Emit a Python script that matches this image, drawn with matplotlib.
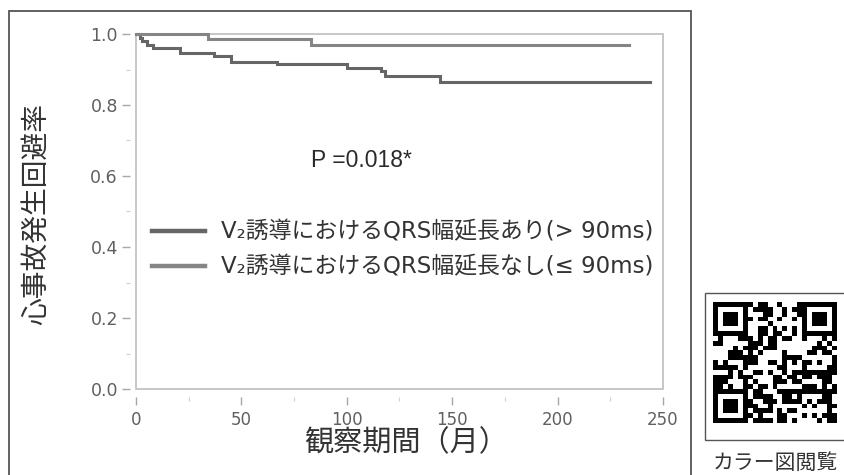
import hashlib
import numpy as np
import matplotlib
matplotlib.use("Agg")
import matplotlib.pyplot as plt
from matplotlib.patches import Rectangle
from matplotlib.ticker import MultipleLocator

JP = ["Noto Sans CJK JP", "DejaVu Sans"]
LAT_JP = ["DejaVu Sans", "Noto Sans CJK JP"]

# ── data ──────────────────────────────────────────────────────────────────────
# QRS prolongation present (> 90 ms): lower curve
t_yes = [0, 2, 3, 5, 8, 21, 37, 45, 67, 100, 116, 118, 144, 244]
s_yes = [1.0, 0.99, 0.98, 0.970, 0.961, 0.946, 0.938, 0.922, 0.915, 0.903,
         0.895, 0.883, 0.864, 0.864]
# QRS prolongation absent (<= 90 ms): upper curve
t_no = [0, 34, 83, 234]
s_no = [1.0, 0.985, 0.969, 0.969]

labels = ["V\u2082誘導におけるQRS幅延長あり(> 90ms)",
          "V\u2082誘導におけるQRS幅延長なし(\u2264 90ms)"]
colors = ["#666666", "#858585"]
p_text = "P =0.018*"
x_ticks = [0, 50, 100, 150, 200, 250]
y_ticks = [0.0, 0.2, 0.4, 0.6, 0.8, 1.0]

# ── figure ───────────────────────────────────────────────────────────────────
W, H = 845, 475
fig = plt.figure(figsize=(W / 100, H / 100), dpi=100)
ax = fig.add_axes([136 / W, 1 - 389 / H, (663 - 136) / W, (389 - 34) / H])

ax.step(t_yes, s_yes, where="post", color=colors[0], lw=2.2, label=labels[0],
        solid_joinstyle="miter", clip_on=False, zorder=3)
ax.step(t_no, s_no, where="post", color=colors[1], lw=2.2, label=labels[1],
        solid_joinstyle="miter", clip_on=False, zorder=3)

ax.set_xlim(0, 250)
ax.set_ylim(0, 1.0)
ax.set_xticks(x_ticks)
ax.set_yticks(y_ticks)
ax.set_yticklabels([f"{v:.1f}" for v in y_ticks])
ax.xaxis.set_minor_locator(MultipleLocator(25))
ax.yaxis.set_minor_locator(MultipleLocator(0.1))

# ticks float a little away from the plot frame
for s in ax.spines.values():
    s.set_visible(False)
ax.spines["left"].set_position(("outward", 4))
ax.spines["bottom"].set_position(("outward", 6))
ax.add_patch(Rectangle((0, 0), 1, 1, transform=ax.transAxes, fill=False,
                       ec="#bdbdbd", lw=1.2, clip_on=False, zorder=2))

ax.tick_params(axis="both", which="major", length=6, width=1, color="#a8a8a8",
               labelcolor="#606060")
ax.tick_params(axis="both", which="minor", length=3, width=0.8, color="#cfcfcf")
ax.tick_params(axis="y", labelsize=12.5, pad=3)
ax.tick_params(axis="x", labelsize=12, pad=4)

ax.text(107, 0.645, p_text, ha="center", va="center", fontsize=16.5,
        family=["Liberation Sans", "DejaVu Sans"], color="#2a2a2a")

leg = ax.legend(loc="upper left", bbox_to_anchor=(0.030, 0.474), frameon=False,
                prop=dict(family=LAT_JP, size=16.5), handlelength=2.3,
                handletextpad=0.72, labelspacing=0.52, borderpad=0,
                borderaxespad=0)
for h in leg.get_lines():
    h.set_linewidth(3.2)
for t in leg.get_texts():
    t.set_color("#333333")

fig.text(37 / W, 1 - 214 / H, "心事故発生回避率", rotation=90, ha="center",
         va="center", fontsize=20, family=JP, color="#333333")
fig.text(406 / W, 1 - 443 / H, "観察期間（月）", ha="center", va="center",
         fontsize=21, family=JP, color="#333333")

# outer frame of the figure panel
fig.add_artist(Rectangle((9 / W, -0.05), (691 - 9) / W, 1 - 11 / H + 0.05,
                         transform=fig.transFigure, fill=False, ec="#555555",
                         lw=1.3))

# QR box at the right (decoration)
fig.add_artist(Rectangle((705 / W, 1 - 440 / H), 0.3, (440 - 293) / H,
                         transform=fig.transFigure, fill=False, ec="#555555",
                         lw=1.0))
n = 25
bits = "".join(format(b, "08b") for i in range(3)
               for b in hashlib.sha256(f"color{i}".encode()).digest())
qr = np.array([int(c) for c in bits[:n * n]]).reshape(n, n)
for r0, c0 in [(0, 0), (0, n - 7), (n - 7, 0)]:
    qr[r0:r0 + 7, c0:c0 + 7] = 1
    qr[r0 + 1:r0 + 6, c0 + 1:c0 + 6] = 0
    qr[r0 + 2:r0 + 5, c0 + 2:c0 + 5] = 1
qax = fig.add_axes([713 / W, 1 - 423 / H, 124 / W, 121 / H])
qax.imshow(qr, cmap="Greys", interpolation="nearest", aspect="auto")
qax.axis("off")
fig.text(713 / W, 1 - 463 / H, "カラー図閲覧", ha="left", va="center",
         fontsize=15, family=JP, color="#333333")

fig.savefig("out.png", dpi=100)
